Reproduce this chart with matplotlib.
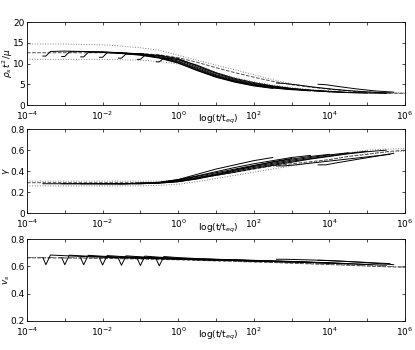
import numpy as np
import matplotlib
matplotlib.use('Agg')
import matplotlib.pyplot as plt

# log10(t/t_eq) grid for the reference curves
LOGT = [-4, -3.5, -3, -2.5, -2, -1.5, -1, -0.5, 0, 0.5, 1, 1.5, 2, 2.5, 3, 3.5, 4, 4.5, 5, 5.5, 6]

# aging runs: start times (log10) and offsets after start
SEG_START = [-3.5, -3, -2.5, -2, -1.5, -1, -0.5]
SEG_DT = [-0.08, 0, 0.12, 0.5, 1, 1.5, 2, 2.5, 3, 3.5, 4, 4.5, 5, 5.5, 6]
LATE_START = [2.6, 3.7]
LATE_DT = [0, 0.2, 0.5, 1, 1.5, 2, 2.5, 3]

# ---- panel 1 : rho_s t^2 / mu
rho_segs = [
    [11.8, 11.8, 12.9, 13.0, 12.9, 12.7, 12.4, 12.0, 11.3, 10.1, 8.3, 6.7, 5.5, 4.6, 4.0],
    [11.7, 11.7, 12.8, 12.9, 12.8, 12.5, 12.1, 11.4, 10.2, 8.4, 6.8, 5.6, 4.7, 4.1, 3.7],
    [11.6, 11.6, 12.7, 12.8, 12.6, 12.2, 11.5, 10.4, 8.6, 6.9, 5.7, 4.8, 4.2, 3.7, 3.4],
    [11.5, 11.5, 12.6, 12.6, 12.3, 11.7, 10.6, 8.8, 7.1, 5.8, 4.9, 4.3, 3.8, 3.5, 3.2],
    [11.3, 11.3, 12.3, 12.4, 11.9, 10.9, 9.1, 7.3, 6.0, 5.0, 4.4, 3.9, 3.5, 3.2, 3.0],
    [11.0, 11.0, 12.0, 12.0, 11.2, 9.4, 7.6, 6.2, 5.2, 4.5, 3.9, 3.5, 3.2, 3.0, 2.9],
    [10.4, 10.4, 11.3, 11.0, 9.6, 7.8, 6.4, 5.4, 4.6, 4.0, 3.6, 3.3, 3.0, 2.9, 2.8],
]
rho_late = [
    [5.3, 5.2, 4.9, 4.3, 3.8, 3.4, 3.1, 2.9],
    [5.0, 4.9, 4.5, 3.9, 3.4, 3.1],
]
rho_dash = [12.6, 12.6, 12.6, 12.6, 12.6, 12.5, 12.4, 12.1, 11.4, 10.3, 9.0, 7.8, 6.7, 5.7, 4.9, 4.3, 3.8, 3.4, 3.1, 2.9, 2.8]
rho_dot_hi = [14.7, 14.7, 14.7, 14.6, 14.5, 14.2, 13.8, 13.2, 12.0, 10.8, 9.6, 8.5, 7.3, 6.1, 5.1, 4.4, 3.9, 3.5, 3.2, 3.0, 2.9]
rho_dot_lo = [11.0, 11.0, 11.0, 11.0, 11.0, 10.9, 10.8, 10.5, 9.9, 8.9, 7.8, 6.6, 5.6, 4.8, 4.2, 3.7, 3.4, 3.1, 2.9, 2.8, 2.8]

# ---- panel 2 : gamma
gam_segs = [
    [0.28, 0.28, 0.28, 0.28, 0.28, 0.28, 0.28, 0.28, 0.29, 0.32, 0.37, 0.42, 0.46, 0.50, 0.53],
    [0.28, 0.28, 0.28, 0.28, 0.28, 0.28, 0.28, 0.285, 0.30, 0.325, 0.365, 0.41, 0.45, 0.49, 0.52],
    [0.28, 0.28, 0.28, 0.28, 0.28, 0.285, 0.295, 0.32, 0.355, 0.395, 0.435, 0.47, 0.50, 0.53, 0.55],
    [0.28, 0.28, 0.28, 0.28, 0.285, 0.29, 0.315, 0.35, 0.385, 0.42, 0.455, 0.485, 0.515, 0.54, 0.56],
    [0.28, 0.28, 0.28, 0.285, 0.29, 0.31, 0.34, 0.375, 0.41, 0.445, 0.475, 0.505, 0.53, 0.555, 0.575],
    [0.285, 0.285, 0.285, 0.29, 0.305, 0.335, 0.365, 0.40, 0.435, 0.465, 0.495, 0.52, 0.545, 0.57, 0.59],
    [0.29, 0.29, 0.29, 0.30, 0.33, 0.36, 0.39, 0.425, 0.455, 0.485, 0.515, 0.54, 0.565, 0.585, 0.60],
]
gam_late = [
    [0.45, 0.45, 0.46, 0.48, 0.50, 0.52, 0.54, 0.56],
    [0.46, 0.46, 0.48, 0.51, 0.54, 0.57],
]
gam_dash = [0.29, 0.29, 0.29, 0.29, 0.29, 0.29, 0.29, 0.29, 0.30, 0.33, 0.36, 0.39, 0.42, 0.45, 0.47, 0.49, 0.51, 0.54, 0.56, 0.585, 0.60]
gam_dot_hi = [0.305, 0.305, 0.305, 0.305, 0.305, 0.305, 0.305, 0.305, 0.31, 0.34, 0.37, 0.40, 0.43, 0.46, 0.49, 0.52, 0.55, 0.575, 0.60, 0.61, 0.615]
gam_dot_lo = [0.26, 0.26, 0.26, 0.26, 0.26, 0.26, 0.26, 0.265, 0.275, 0.30, 0.33, 0.36, 0.39, 0.42, 0.45, 0.48, 0.51, 0.54, 0.565, 0.58, 0.59]

# ---- panel 3 : v_s
vs_segs = [
    [0.665, 0.612, 0.683, 0.678, 0.672, 0.667, 0.663, 0.659, 0.656, 0.652, 0.648, 0.645, 0.642, 0.638, 0.634],
    [0.663, 0.612, 0.682, 0.676, 0.670, 0.665, 0.661, 0.657, 0.653, 0.649, 0.646, 0.643, 0.639, 0.635, 0.631],
    [0.661, 0.612, 0.681, 0.674, 0.668, 0.663, 0.659, 0.655, 0.651, 0.647, 0.644, 0.640, 0.636, 0.632, 0.627],
    [0.659, 0.610, 0.679, 0.672, 0.666, 0.661, 0.657, 0.652, 0.648, 0.645, 0.641, 0.637, 0.633, 0.628, 0.623],
    [0.657, 0.608, 0.677, 0.670, 0.663, 0.658, 0.654, 0.650, 0.646, 0.642, 0.638, 0.634, 0.629, 0.624, 0.618],
    [0.655, 0.606, 0.675, 0.667, 0.660, 0.655, 0.651, 0.647, 0.643, 0.639, 0.635, 0.630, 0.625, 0.619, 0.613],
    [0.652, 0.604, 0.672, 0.664, 0.657, 0.652, 0.648, 0.644, 0.640, 0.636, 0.631, 0.626, 0.620, 0.614, 0.608],
]
vs_late = [
    [0.652, 0.652, 0.650, 0.646, 0.640, 0.634, 0.627, 0.620],
    [0.645, 0.644, 0.640, 0.632, 0.622, 0.612],
]
vs_dashdot = [0.665, 0.665, 0.664, 0.663, 0.661, 0.659, 0.657, 0.654, 0.651, 0.647, 0.643, 0.639, 0.635, 0.631, 0.626, 0.621, 0.616, 0.611, 0.605, 0.600, 0.596]
vs_dash = [0.662, 0.662, 0.661, 0.660, 0.658, 0.656, 0.654, 0.651, 0.648, 0.644, 0.640, 0.636, 0.632, 0.628, 0.623, 0.618, 0.613, 0.608, 0.602, 0.597, 0.593]

XTICKLABELS = ['$10^{-4}$', '', '$10^{-2}$', '', '$10^{0}$', '', '$10^{2}$', '', '$10^{4}$', '', '$10^{6}$']

panels = [
    dict(segs=rho_segs, late=rho_late,
         refs=[(rho_dot_hi, ':', '0.5'), (rho_dot_lo, ':', '0.5'), (rho_dash, '--', '0.3')],
         ylim=(0, 20), yticks=[0, 5, 10, 15, 20], yticklabels=['0', '5', '10', '15', '20'],
         ylabel=r'$\rho_s\,t^2/\mu$', labelx=-0.032, rect=[0.065, 0.70, 0.911, 0.237]),
    dict(segs=gam_segs, late=gam_late,
         refs=[(gam_dot_hi, ':', '0.5'), (gam_dot_lo, ':', '0.5'), (gam_dash, '--', '0.3')],
         ylim=(0, 0.8), yticks=[0, 0.2, 0.4, 0.6, 0.8], yticklabels=['0', '0.2', '0.4', '0.6', '0.8'],
         ylabel=r'$\gamma$', labelx=-0.04, rect=[0.065, 0.391, 0.911, 0.240]),
    dict(segs=vs_segs, late=vs_late,
         refs=[(vs_dashdot, '-.', '0.45'), (vs_dash, '--', '0.3')],
         ylim=(0.2, 0.8), yticks=[0.2, 0.4, 0.6, 0.8], yticklabels=['0.2', '0.4', '0.6', '0.8'],
         ylabel=r'$v_s$', labelx=-0.04, rect=[0.065, 0.083, 0.911, 0.234]),
]

fig = plt.figure(figsize=(4.15, 3.5), dpi=100)
x_ref = 10.0 ** np.array(LOGT)

for p in panels:
    ax = fig.add_axes(p['rect'])
    for vals, ls, col in p['refs']:
        ax.plot(x_ref, vals, linestyle=ls, color=col, lw=0.7)
    for s, vals in zip(SEG_START, p['segs']):
        ax.plot(10.0 ** (s + np.array(SEG_DT)), vals, '-', color='k', lw=0.7)
    for s, vals in zip(LATE_START, p['late']):
        ax.plot(10.0 ** (s + np.array(LATE_DT[:len(vals)])), vals, '-', color='k', lw=0.7)

    ax.set_xscale('log')
    ax.set_xlim(1e-4, 1e6)
    ax.set_ylim(*p['ylim'])
    ax.set_xticks(10.0 ** np.arange(-4, 7))
    ax.set_xticklabels(XTICKLABELS)
    ax.minorticks_off()
    ax.set_yticks(p['yticks'])
    ax.set_yticklabels(p['yticklabels'])
    ax.tick_params(direction='in', length=2.5, width=0.5, labelsize=6.5,
                   top=True, right=True)
    ax.tick_params(axis='x', pad=3.5)
    ax.tick_params(axis='y', pad=1.5)
    for sp in ax.spines.values():
        sp.set_linewidth(0.6)
    ax.set_xlabel('log(t/t$_{eq}$)', fontsize=6.5)
    ax.xaxis.set_label_coords(0.505, -0.1)
    ax.xaxis.label.set_verticalalignment('top')
    ax.set_ylabel(p['ylabel'], fontsize=6.5, labelpad=0)
    ax.yaxis.set_label_coords(p['labelx'], 0.5)

fig.savefig('out.png', dpi=100)
